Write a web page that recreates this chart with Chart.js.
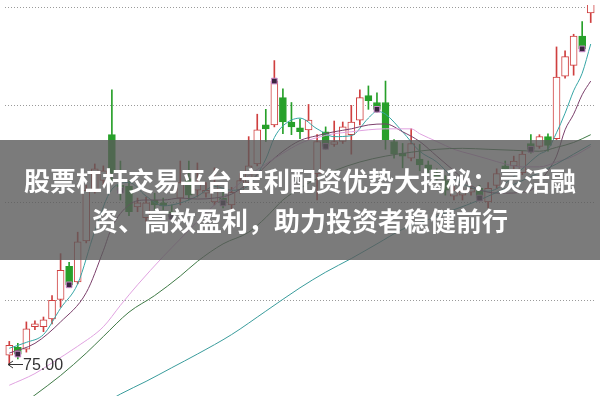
<!DOCTYPE html>
<html>
<head>
<meta charset="utf-8">
<script src="https://cdn.jsdelivr.net/npm/chart.js@4.4.1/dist/chart.umd.min.js"></script>
<style>
  html, body { margin: 0; padding: 0; background: #fff; }
  #wrap { position: relative; width: 600px; height: 401px; overflow: hidden; }
  #kline { display: block; }
  #banner {
    position: absolute; left: 0; top: 140px; width: 600px; height: 120px;
    background: rgba(90, 90, 90, 0.8);
    display: flex; align-items: center; justify-content: center;
  }
  #banner div {
    color: #fff; font: bold 26px/40px "Noto Sans CJK SC", sans-serif;
    text-align: center; white-space: nowrap;
  }
</style>
</head>
<body>
<div id="wrap">
  <canvas id="kline" width="600" height="401"></canvas>
  <div id="banner"><div>股票杠杆交易平台 宝利配资优势大揭秘：灵活融<br>资、高效盈利，助力投资者稳健前行</div></div>
</div>
<script>
// daily candles
const opens = [
  75.18, 75.34, 75.30, 75.76, 75.76, 75.92, 76.32, 77.00, 76.68, 77.52,
  78.56, 78.76, 79.70, 78.66, 78.64, 78.22, 78.00, 78.36, 78.30, 78.12,
  78.40, 78.80, 78.56, 78.50, 78.32, 78.40, 78.26, 78.56, 78.72, 79.10,
  79.90, 79.90, 80.46, 79.96, 79.84, 79.80, 78.90, 79.76, 79.50, 79.56,
  79.70, 80.00, 80.50, 80.36, 80.36, 79.56, 79.32, 79.22, 79.20, 79.08,
  78.92, 78.76, 78.44, 78.46, 78.52, 78.60, 78.32, 78.66, 79.06, 79.06,
  78.92, 79.52, 79.46, 79.66, 79.62, 80.90, 81.12, 81.72, 82.20
];
const highs = [
  75.46, 75.42, 75.86, 75.88, 75.96, 76.40, 77.26, 77.08, 77.70, 78.66,
  79.10, 79.06, 80.62, 79.16, 78.76, 78.40, 78.42, 78.50, 78.40, 78.26,
  79.16, 79.16, 79.12, 78.72, 79.02, 78.52, 78.62, 78.90, 79.66, 80.12,
  80.22, 81.22, 80.64, 80.36, 80.02, 80.32, 79.70, 79.86, 79.98, 79.96,
  80.30, 80.62, 80.70, 80.56, 80.80, 79.60, 79.52, 79.82, 79.50, 79.16,
  79.00, 78.86, 78.64, 78.60, 78.66, 78.66, 78.72, 79.00, 79.16, 79.26,
  79.36, 79.70, 79.70, 79.72, 81.50, 81.42, 81.76, 82.02, 82.66
];
const lows = [
  75.00, 75.10, 75.24, 75.70, 75.66, 75.82, 76.16, 76.56, 76.64, 77.48,
  78.50, 78.64, 78.72, 78.36, 78.04, 78.12, 77.92, 78.16, 78.16, 77.96,
  78.26, 78.36, 78.42, 78.42, 78.26, 78.20, 78.16, 78.50, 78.66, 79.06,
  79.56, 79.86, 79.72, 79.70, 79.62, 79.60, 78.36, 79.40, 79.46, 79.52,
  79.30, 79.90, 80.22, 80.16, 79.40, 79.22, 79.02, 79.16, 78.96, 78.92,
  78.76, 78.46, 78.36, 78.36, 78.46, 78.36, 78.20, 78.60, 78.96, 79.00,
  78.88, 79.32, 79.42, 79.36, 79.60, 80.86, 80.92, 81.42, 82.00
];
const closes = [
  75.38, 75.20, 75.72, 75.82, 75.90, 76.30, 76.92, 76.62, 77.50, 78.56,
  79.00, 78.96, 78.92, 78.56, 78.12, 78.30, 78.30, 78.26, 78.24, 78.02,
  78.72, 78.46, 78.72, 78.56, 78.70, 78.30, 78.52, 78.76, 79.06, 79.80,
  79.82, 80.80, 79.96, 79.86, 79.76, 80.00, 79.56, 79.46, 79.56, 79.86,
  79.96, 80.46, 80.40, 80.22, 79.60, 79.30, 79.26, 79.52, 79.08, 78.98,
  78.82, 78.56, 78.56, 78.54, 78.60, 78.40, 78.60, 78.90, 79.00, 79.16,
  79.30, 79.40, 79.66, 79.48, 80.88, 81.30, 81.72, 81.46, 82.46
];
const days = opens.map((_, i) => 'D' + (i + 1));

// days carrying the small dark marker at the close
const markDays = [1, 7, 13, 19, 25, 31, 37, 43, 55, 61, 67];

// moving averages, [day index, price] sampled along each line
const ma5 = [[0,75.32],[2,75.44],[4,75.60],[6,76.14],[8,76.64],[10,77.72],[12,78.58],[14,78.72],[16,78.44],[18,78.24],[20,78.30],[22,78.44],[24,78.64],[26,78.56],[28,78.66],[30,79.20],[31,79.64],[32,79.88],[34,80.04],[36,79.82],[38,79.66],[40,79.68],[42,80.04],[43,80.18],[44,80.12],[46,79.76],[48,79.36],[50,79.14],[52,78.80],[54,78.62],[56,78.54],[58,78.70],[60,79.00],[62,79.30],[63,79.40],[64,79.74],[65,80.14],[66,80.60],[67,80.96],[68,81.56]];
const ma10 = [[0,75.22],[3,75.42],[6,75.86],[9,76.46],[11,77.32],[12,77.80],[14,78.26],[16,78.36],[18,78.36],[20,78.40],[22,78.38],[24,78.40],[26,78.48],[28,78.72],[30,79.06],[32,79.36],[34,79.58],[36,79.68],[38,79.76],[40,79.82],[42,79.90],[44,79.92],[46,79.76],[48,79.56],[50,79.26],[52,78.96],[54,78.66],[56,78.52],[58,78.50],[60,78.52],[61,78.56],[62,78.72],[63,78.96],[64,79.26],[65,79.80],[66,80.12],[67,80.52],[68,80.80]];
const ma20 = [[0,74.56],[3,74.80],[5,75.02],[8,75.36],[11,75.76],[13,76.20],[15,76.62],[18,77.20],[20,77.56],[22,77.92],[24,78.26],[26,78.56],[28,78.86],[30,79.10],[32,79.32],[34,79.52],[36,79.64],[38,79.72],[40,79.76],[42,79.80],[44,79.82],[47,79.82],[48,79.72],[50,79.56],[52,79.40],[54,79.30],[56,79.20],[58,79.10],[60,79.04],[62,79.04],[64,79.14],[66,79.26],[68,79.46]];
const ma60 = [[0,73.96],[3,74.36],[6,74.76],[9,75.22],[11,75.56],[14,76.06],[17,76.40],[20,76.80],[22,77.10],[25,77.46],[28,77.70],[30,78.00],[32,78.36],[34,78.60],[36,78.80],[38,78.96],[41,79.14],[44,79.26],[47,79.34],[50,79.40],[53,79.42],[56,79.40],[59,79.38],[62,79.36],[64,79.44],[66,79.54],[68,79.70]];
const ma120 = [[12,74.28],[13,74.38],[16,74.64],[19,74.92],[22,75.20],[26,75.60],[30,76.08],[34,76.56],[37,76.88],[40,77.16],[43,77.46],[46,77.76],[49,77.96],[52,78.16],[55,78.36],[58,78.60],[61,78.84],[64,79.10],[66,79.30],[68,79.50]];

// dotted price grid
const gridPrices = [76.3, 78.3, 80.3, 82.3];

const RED = '#cf3f3f', GREEN = '#27a02a';
const isUp = days.map((_, i) => closes[i] >= opens[i]);
const toPts = arr => arr.map(([i, v]) => ({ x: days[i], y: v }));

function maLine(data, color) {
  return {
    type: 'line', data: toPts(data), borderColor: color, borderWidth: 1,
    pointRadius: 0, cubicInterpolationMode: 'monotone', order: 0
  };
}

const lowLabel = {
  id: 'lowLabel',
  afterDatasetsDraw(chart) {
    const { ctx, scales: { x, y } } = chart;
    const k = lows.indexOf(Math.min(...lows));
    const px = Math.round(x.getPixelForValue(k)) - 1;
    const py = Math.round(y.getPixelForValue(lows[k])) + 0.5;
    ctx.save();
    ctx.strokeStyle = '#333';
    ctx.lineWidth = 1;
    ctx.beginPath();
    ctx.moveTo(px, py); ctx.lineTo(px + 15, py);
    ctx.moveTo(px + 5, py - 3.5); ctx.lineTo(px, py); ctx.lineTo(px + 5, py + 3.5);
    ctx.stroke();
    ctx.fillStyle = '#333';
    ctx.font = '16px "Liberation Sans", Arial, sans-serif';
    ctx.textBaseline = 'middle';
    ctx.fillText(lows[k].toFixed(2), px + 15, py + 1);
    ctx.restore();
  }
};

new Chart(document.getElementById('kline'), {
  type: 'bar',
  data: {
    labels: days,
    datasets: [
      {
        label: 'wick', data: days.map((_, i) => [lows[i], highs[i]]),
        backgroundColor: isUp.map(u => u ? RED : GREEN),
        barThickness: 1, grouped: false, order: 3
      },
      {
        label: 'body', data: days.map((_, i) => [opens[i], closes[i]]),
        backgroundColor: isUp.map(u => u ? '#ffffff' : GREEN),
        borderColor: isUp.map(u => u ? RED : GREEN),
        borderWidth: 1, borderSkipped: false,
        barThickness: 7, grouped: false, order: 2
      },
      maLine(ma120, '#3a9c9c'),
      maLine(ma60, '#3f7a46'),
      maLine(ma20, '#e0a2e0'),
      maLine(ma10, '#7b3f6b'),
      maLine(ma5, '#35a5a5'),
      {
        type: 'line', label: 'mark', showLine: false, order: -1,
        data: markDays.map(i => ({ x: days[i], y: closes[i] })),
        pointStyle: 'rect', pointRadius: 4,
        pointBackgroundColor: '#3a2440', pointBorderColor: '#c98ac9', pointBorderWidth: 1
      }
    ]
  },
  options: {
    responsive: false,
    animation: false,
    devicePixelRatio: 1,
    events: [],
    layout: { padding: 0 },
    plugins: { legend: { display: false }, tooltip: { enabled: false } },
    scales: {
      x: { display: false, offset: true },
      y: {
        min: 74.34, max: 82.36,
        ticks: { display: false },
        grid: { color: '#9a9a9a', lineWidth: 1, drawTicks: false },
        border: { display: false, dash: [1, 2] },
        afterBuildTicks: s => { s.ticks = gridPrices.map(v => ({ value: v })); }
      }
    }
  },
  plugins: [lowLabel]
});
</script>
</body>
</html>
